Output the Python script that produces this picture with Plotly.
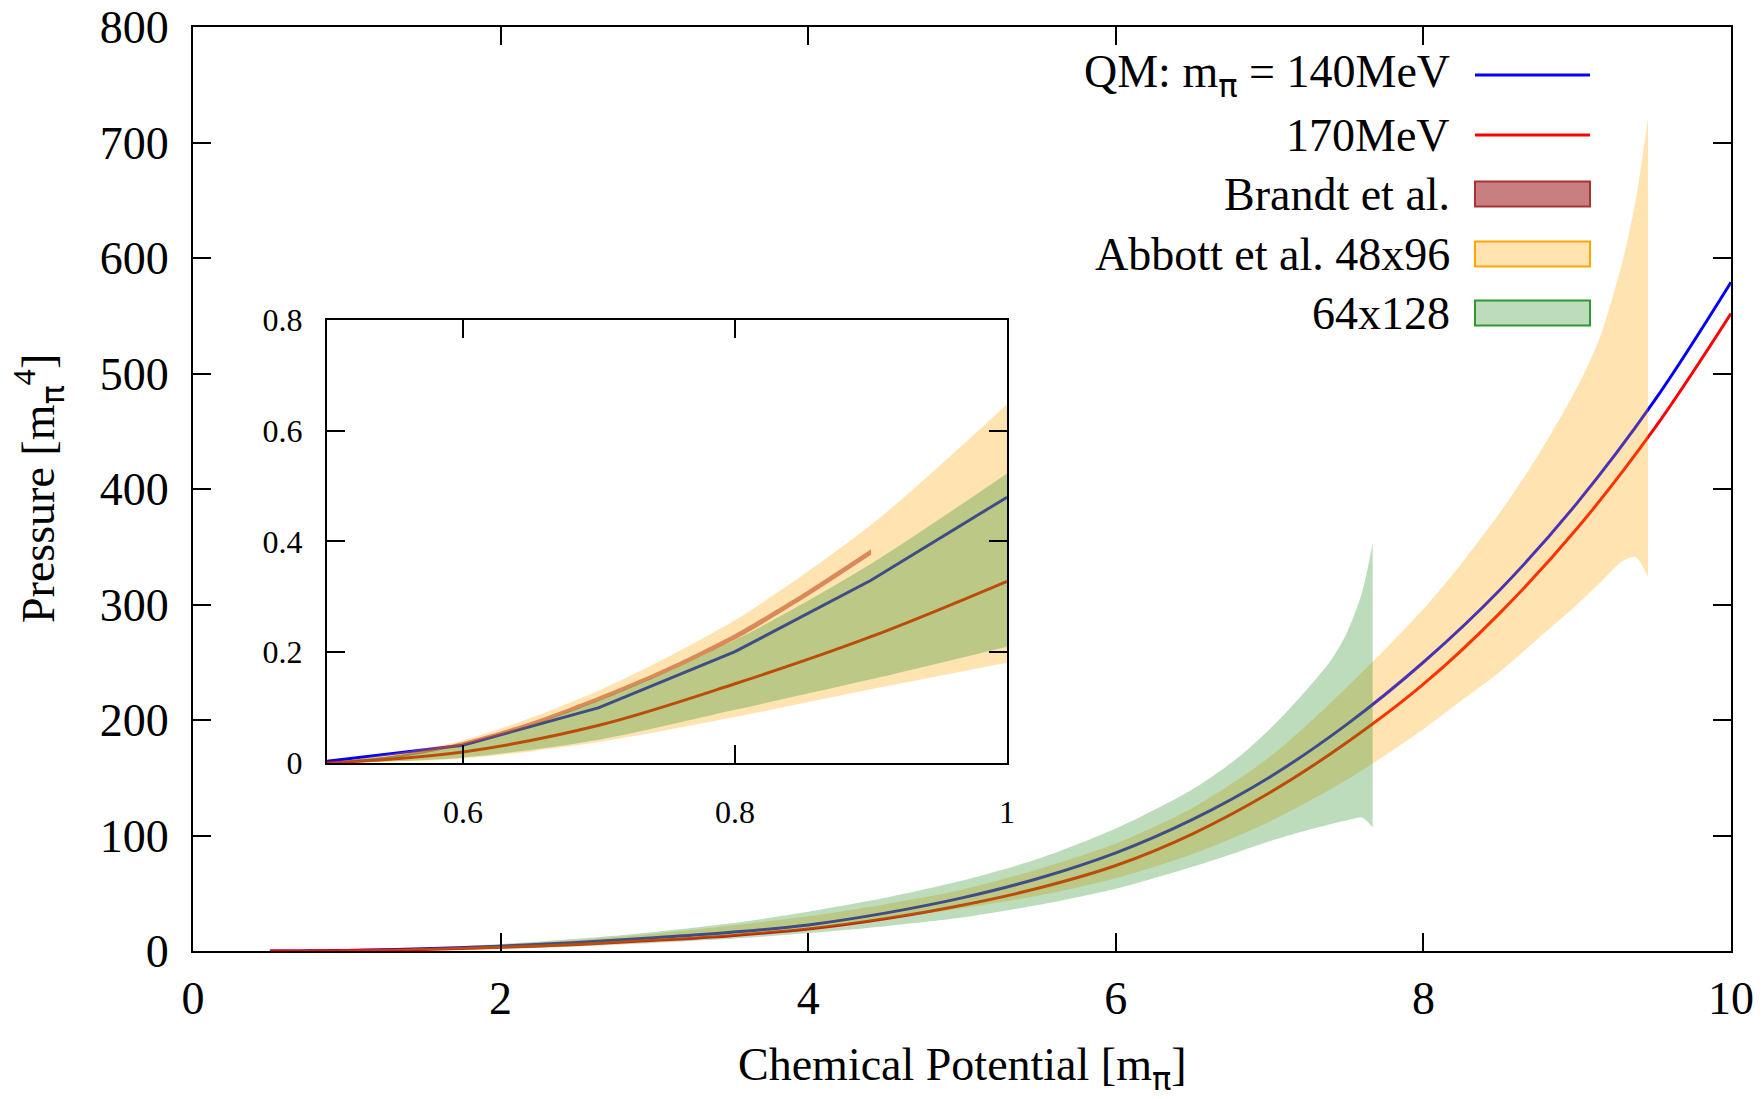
import plotly.graph_objects as go

# QM model curves (chemical potential in units of m_pi, pressure in m_pi^4)
QM_MU = [0.5, 0.6, 0.7, 0.8, 0.9, 1.0, 1.5, 2, 2.5, 3, 3.5, 4, 4.5, 5, 5.5, 6,
         6.5, 7, 7.5, 8, 8.5, 9, 9.5, 10]
QM_140 = [0.003, 0.032, 0.100, 0.201, 0.330, 0.480, 1.9, 4.2, 7.3, 11.5, 16.2, 22.6,
          32.8, 46, 63, 85, 114, 150.5, 196, 250, 313, 388, 476, 579]
QM_170 = [0.0, 0.020, 0.068, 0.143, 0.228, 0.328, 1.37, 3.15, 5.7, 9.2, 13.3, 19,
          27.9, 39.6, 54.5, 74, 101.5, 137, 180.3, 231, 293, 366, 452, 552]

# Brandt et al.
BR_MU = [0.5, 0.55, 0.6, 0.65, 0.7, 0.75, 0.8, 0.85, 0.9]
BR_LO = [0.0, 0.009, 0.032, 0.067, 0.112, 0.164, 0.223, 0.296, 0.376]
BR_HI = [0.002, 0.014, 0.038, 0.074, 0.120, 0.172, 0.233, 0.306, 0.386]

# Abbott et al. 48x96
AB_MU = [0.5, 0.6, 0.7, 0.8, 0.9, 1.0, 1.5, 2, 2.5, 3, 3.5, 4, 4.5, 5, 5.5, 6,
         6.5, 7, 7.5, 8, 8.25, 8.5, 8.75, 9, 9.15, 9.3, 9.38, 9.46]
AB_LO = [0, 0.008, 0.038, 0.083, 0.133, 0.181, 0.8, 2.2, 4.5, 9, 13.5, 19, 27.5, 37,
         48, 63, 84, 112, 148, 192, 217, 242, 271, 300, 319, 338, 341, 324]
AB_HI = [0, 0.041, 0.131, 0.258, 0.430, 0.648, 2.4, 5.5, 9.5, 15, 22, 30, 40.5, 53,
         71, 93, 124, 168, 228, 296, 336, 380, 430, 488, 532, 600, 650, 721]

# Abbott et al. 64x128
GR_MU = [0.5, 0.6, 0.7, 0.8, 0.9, 1.0, 1.5, 2, 2.5, 3, 3.5, 4, 4.5, 5, 5.5, 6,
         6.5, 6.8, 7.0, 7.2, 7.4, 7.5, 7.6, 7.67]
GR_LO = [0, 0.0096, 0.042, 0.096, 0.151, 0.21, 0.8, 2.0, 4.0, 7, 10.5, 15.5, 21.5,
         29, 40, 54, 73, 86, 95, 103, 110, 113, 115.5, 107]
GR_HI = [0, 0.032, 0.113, 0.222, 0.36, 0.523, 2.6, 6, 10.5, 16.5, 24, 34, 46, 61,
         80, 106, 140, 168, 192, 220, 252, 275, 310, 353]

SERIF = "Liberation Serif, Times New Roman, serif"
PI = "<span style='font-family:DejaVu Sans'>π</span>"
BLUE = "#0000ff"
RED = "#ff0000"
BR_FILL = "rgba(165,42,42,0.6)"
AB_FILL = "rgba(255,165,0,0.3)"
GR_FILL = "rgba(34,139,34,0.3)"

fig = go.Figure()


def add_band(mu, lo, hi, color, xa, ya, n=None):
    mu, lo, hi = mu[:n], lo[:n], hi[:n]
    fig.add_trace(go.Scatter(x=mu, y=lo, mode="lines",
                             line=dict(width=0, shape="spline", smoothing=0.8),
                             xaxis=xa, yaxis=ya, showlegend=False, hoverinfo="skip"))
    fig.add_trace(go.Scatter(x=mu, y=hi, mode="lines",
                             line=dict(width=0, shape="spline", smoothing=0.8),
                             fill="tonexty", fillcolor=color,
                             xaxis=xa, yaxis=ya, showlegend=False))


# main plot: lines first, translucent bands on top
fig.add_trace(go.Scatter(x=QM_MU, y=QM_140, mode="lines", line=dict(color=BLUE, width=3, shape="spline"),
                         xaxis="x", yaxis="y", showlegend=False))
fig.add_trace(go.Scatter(x=QM_MU, y=QM_170, mode="lines", line=dict(color=RED, width=3, shape="spline"),
                         xaxis="x", yaxis="y", showlegend=False))
add_band(BR_MU, BR_LO, BR_HI, BR_FILL, "x", "y")
add_band(AB_MU, AB_LO, AB_HI, AB_FILL, "x", "y")
add_band(GR_MU, GR_LO, GR_HI, GR_FILL, "x", "y")

# inset (mu <= 1)
fig.add_trace(go.Scatter(x=QM_MU[:6], y=QM_140[:6], mode="lines", line=dict(color=BLUE, width=3),
                         xaxis="x2", yaxis="y2", showlegend=False))
fig.add_trace(go.Scatter(x=QM_MU[:6], y=QM_170[:6], mode="lines", line=dict(color=RED, width=3, shape="spline"),
                         xaxis="x2", yaxis="y2", showlegend=False))
add_band(BR_MU, BR_LO, BR_HI, BR_FILL, "x2", "y2")
add_band(AB_MU, AB_LO, AB_HI, AB_FILL, "x2", "y2", n=6)
add_band(GR_MU, GR_LO, GR_HI, GR_FILL, "x2", "y2", n=6)

axis_common = dict(showline=True, linecolor="black", linewidth=2, mirror="ticks",
                   ticks="inside", tickcolor="black", tickwidth=1.5, ticklen=18,
                   showgrid=False, zeroline=False, automargin=False,
                   ticklabeloverflow="allow")

# page body has an 8px margin, so the figure is 8px smaller on each axis
fig.update_layout(
    width=1754, height=1091,
    margin=dict(l=185, r=31, t=19, b=148),
    paper_bgcolor="white", plot_bgcolor="white",
    font=dict(family=SERIF, size=46, color="black"),
    xaxis=dict(axis_common, domain=[0, 1], range=[0, 10], dtick=2, tick0=0,
               tickfont=dict(size=46), ticklabelstandoff=6),
    yaxis=dict(axis_common, domain=[0, 1], range=[0, 800], dtick=100, tick0=0,
               tickfont=dict(size=46), ticklabelstandoff=13),
    xaxis2=dict(axis_common, domain=[0.0871, 0.5293], anchor="y2", range=[0.5, 1.0],
                tickvals=[0.6, 0.8, 1.0], ticktext=["0.6", "0.8", "1"],
                tickfont=dict(size=32), ticklabelstandoff=20),
    yaxis2=dict(axis_common, domain=[0.2035, 0.6829], anchor="x2", range=[0, 0.8],
                tickvals=[0, 0.2, 0.4, 0.6, 0.8], ticktext=["0", "0.2", "0.4", "0.6", "0.8"],
                tickfont=dict(size=32), ticklabelstandoff=16),
)


# page pixel -> paper coordinate (plot area spans x 193..1731, y 27..951 on the page)
def px_x(p):
    return (p - 193) / 1538


def px_y(p):
    return (951 - p) / 924


# axis titles
fig.add_annotation(x=px_x(962), y=px_y(1068), xref="paper", yref="paper",
                   text="Chemical Potential [m<sub>" + PI + "</sub>]", showarrow=False,
                   xanchor="center", yanchor="middle", font=dict(family=SERIF, size=46))
fig.add_annotation(x=px_x(39), y=px_y(489), xref="paper", yref="paper",
                   text="Pressure [m<sub>" + PI + "</sub><sup>4</sup>]", showarrow=False, textangle=-90,
                   xanchor="center", yanchor="middle", font=dict(family=SERIF, size=46))

# hand-built legend, gnuplot style (text right-aligned, sample on the right)
legend_rows = [
    ("QM: m<sub>" + PI + "</sub> = 140MeV", "line", BLUE, None),
    ("170MeV", "line", RED, None),
    ("Brandt et al.", "box", BR_FILL, "rgb(170,50,50)"),
    ("Abbott et al. 48x96", "box", AB_FILL, "rgb(255,165,0)"),
    ("64x128", "box", GR_FILL, "rgb(50,150,50)"),
]
row_y = [75, 135, 194, 254, 313]
for (label, kind, col, edge), yy in zip(legend_rows, row_y):
    fig.add_annotation(x=px_x(1452), y=px_y(yy), xref="paper", yref="paper",
                       text=label, showarrow=False, xanchor="right", yanchor="middle",
                       font=dict(family=SERIF, size=46, color="black"))
    if kind == "line":
        fig.add_shape(type="line", xref="paper", yref="paper",
                      x0=px_x(1475), x1=px_x(1590), y0=px_y(yy), y1=px_y(yy),
                      line=dict(color=col, width=3))
    else:
        fig.add_shape(type="rect", xref="paper", yref="paper",
                      x0=px_x(1475), x1=px_x(1590), y0=px_y(yy + 12.5), y1=px_y(yy - 12.5),
                      fillcolor=col, line=dict(color=edge, width=2))

fig.write_html("out.html")
